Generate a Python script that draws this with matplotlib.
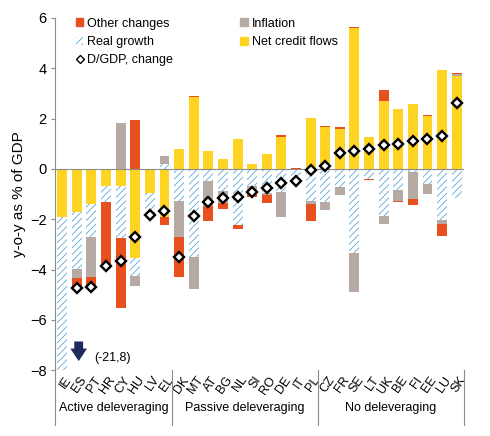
import matplotlib
matplotlib.use("Agg")
import matplotlib.pyplot as plt
import numpy as np
from matplotlib.patches import Patch
from matplotlib.lines import Line2D

plt.rcParams["font.family"] = ["Liberation Sans", "DejaVu Sans"]
plt.rcParams["hatch.linewidth"] = 0.6

COUNTRIES = ["IE", "ES", "PT", "HR", "CY", "HU", "LV", "EL",
             "DK", "MT", "AT", "BG", "NL", "SI", "RO", "DE", "IT", "PL",
             "CZ", "FR", "SE", "LT", "UK", "BE", "FI", "EE", "LU", "SK"]

# contributions to y-o-y change in debt, % of GDP
NET_CREDIT = [-1.90, -1.73, -1.40, -0.69, -0.69, -3.53, -0.97, -1.93,
              0.80, 2.84, 0.69, 0.40, 1.20, 0.20, 0.61, 1.27, 0.00, 2.04,
              1.68, 1.60, 5.60, 1.25, 2.69, 2.36, 2.56, 2.09, 3.93, 3.70]
REAL_GROWTH = [-6.30, -2.24, -1.30, -0.64, -2.04, -0.74, -0.85, 0.20,
               -1.27, -3.50, -0.49, -0.87, -2.23, -0.67, -0.95, -0.93, -0.51, -1.29,
               -1.33, -0.73, -3.33, -0.40, -1.87, -0.83, -0.13, -0.60, -2.03, -1.16]
INFLATION = [0.00, -0.36, -1.60, 0.00, 1.84, -0.37, 0.00, 0.33,
             -1.43, -1.26, -1.00, -0.50, 0.00, -0.20, -0.10, -1.00, 0.00, -0.11,
             -0.30, -0.31, -1.56, 0.00, -0.33, -0.46, -1.07, -0.40, -0.17, 0.06]
OTHER = [0.00, -0.40, -0.34, -2.62, -2.80, 1.93, 0.00, -0.31,
         -1.60, 0.05, -0.58, -0.23, -0.17, -0.26, -0.30, 0.06, 0.04, -0.67,
         0.03, 0.07, 0.03, -0.05, 0.44, -0.04, -0.23, 0.07, -0.47, 0.04]
DEBT_CHANGE = [-21.8, -4.73, -4.70, -3.87, -3.66, -2.71, -1.84, -1.69,
               -3.50, -1.87, -1.33, -1.16, -1.13, -0.91, -0.76, -0.57, -0.47, -0.04,
               0.13, 0.64, 0.71, 0.79, 0.93, 1.00, 1.12, 1.20, 1.29, 2.63]

GROUPS = [("Active deleveraging", 0, 7),
          ("Passive deleveraging", 8, 17),
          ("No deleveraging", 18, 27)]

ORANGE = "#E8511E"
GREY = "#B5AAA4"
YELLOW = "#FFD322"
BLUE = "#5AA8D8"


def main():
    fig = plt.figure(figsize=(4.9, 4.36), dpi=100)
    ax = fig.add_axes([0.112, 0.151, 0.835, 0.808])

    x = np.arange(len(COUNTRIES))
    w = 0.68
    pos = np.zeros(len(x))
    neg = np.zeros(len(x))
    series = [
        (NET_CREDIT, dict(color=YELLOW)),
        (REAL_GROWTH, dict(facecolor="white", edgecolor=BLUE, hatch="/////", linewidth=0)),
        (INFLATION, dict(color=GREY)),
        (OTHER, dict(color=ORANGE)),
    ]
    for vals, style in series:
        v = np.array(vals)
        bottom = np.where(v >= 0, pos, neg)
        ax.bar(x, v, w, bottom=bottom, zorder=2, **style)
        pos += np.where(v > 0, v, 0)
        neg += np.where(v < 0, v, 0)

    ax.plot(x, DEBT_CHANGE, ls="none", marker="D", ms=5.2, mfc="white",
            mec="black", mew=1.7, zorder=4)

    ax.axhline(0, color="#8C8C8C", lw=0.8, zorder=3)

    ax.set_xlim(-0.5, len(x) - 0.5)
    ax.set_ylim(-8, 6)
    ax.set_yticks(range(-8, 7, 2))
    ax.tick_params(axis="y", labelsize=10.5, length=3, color="#8C8C8C", pad=3)
    ax.set_ylabel("y-o-y as % of GDP", fontsize=11, labelpad=3)

    ax.set_xticks(x)
    ax.set_xticklabels(COUNTRIES, rotation=55, ha="right", va="top",
                       rotation_mode="anchor", fontsize=9)
    ax.tick_params(axis="x", length=0, pad=3)
    for lbl in ax.get_xticklabels():
        lbl.set_transform(lbl.get_transform() +
                          matplotlib.transforms.ScaledTranslation(2 / 100, 0, fig.dpi_scale_trans))

    for side in ("top", "right", "bottom"):
        ax.spines[side].set_visible(False)
    ax.spines["left"].set_color("#8C8C8C")
    ax.spines["left"].set_linewidth(0.8)

    trans = ax.get_xaxis_transform()
    for sep in (-0.5, 7.5, 17.5, 27.5):
        ax.plot([sep, sep], [-0.157, 0], color="#8C8C8C", lw=0.8,
                transform=trans, clip_on=False)
    for name, a, b in GROUPS:
        ax.text((a + b) / 2, -0.108, name, transform=trans, ha="center",
                va="center", fontsize=9)

    # IE value is far off the scale
    ax.annotate("", xy=(1.13, -7.75), xytext=(1.13, -6.75),
                arrowprops=dict(arrowstyle="simple,head_width=0.6,head_length=0.45,tail_width=0.32",
                                mutation_scale=20, color="#1F2B5C", lw=0))
    ax.text(2.2, -7.5, "(-21,8)", fontsize=9, ha="left", va="center")

    handles = [
        Patch(color=ORANGE, label="Other changes"),
        Patch(facecolor="white", edgecolor=BLUE, hatch="/////", lw=0, label="Real growth"),
        Line2D([], [], ls="none", marker="D", ms=4, mfc="white", mec="black",
               mew=1.0, label="D/GDP, change"),
        Patch(color=GREY, label="Inflation"),
        Patch(color=YELLOW, label="Net credit flows"),
    ]
    ax.legend(handles=handles, ncol=2, loc="upper left", frameon=False,
              bbox_to_anchor=(67 / 490, 1 - 9 / 436), bbox_transform=fig.transFigure,
              fontsize=9, handlelength=0.6, handleheight=0.6, handletextpad=0.3,
              columnspacing=5.4, labelspacing=0.5, borderpad=0.2)

    fig.savefig("out.png", dpi=100)


if __name__ == "__main__":
    main()
